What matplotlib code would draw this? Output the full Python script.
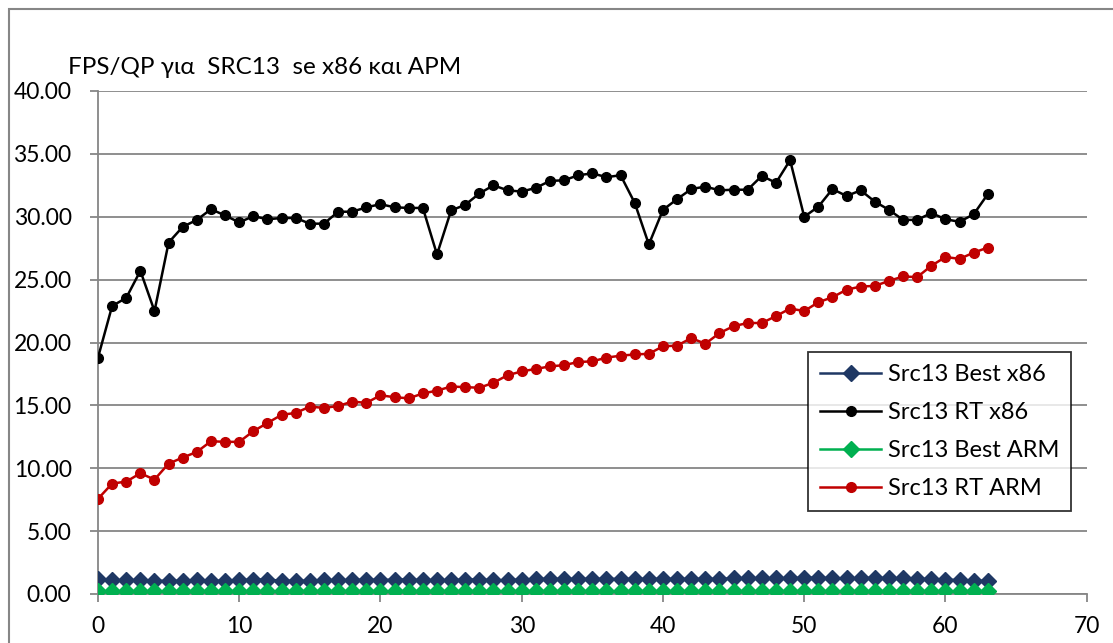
import matplotlib
matplotlib.use("Agg")
import matplotlib.pyplot as plt
from matplotlib.patches import Rectangle

plt.rcParams['font.family'] = ['Lato', 'DejaVu Sans']

x = list(range(64))

rt_x86 = [18.8, 22.9, 23.55, 25.7, 22.5, 27.95, 29.2, 29.75, 30.6, 30.1,
          29.55, 30.05, 29.8, 29.9, 29.9, 29.45, 29.45, 30.4, 30.4, 30.75,
          31.0, 30.75, 30.7, 30.7, 27.0, 30.5, 30.95, 31.85, 32.5, 32.1,
          32.0, 32.3, 32.85, 32.9, 33.3, 33.45, 33.15, 33.3, 31.1, 27.8,
          30.55, 31.4, 32.2, 32.4, 32.1, 32.15, 32.15, 33.25, 32.7, 34.5,
          30.0, 30.8, 32.2, 31.65, 32.1, 31.2, 30.55, 29.75, 29.75, 30.3,
          29.8, 29.6, 30.2, 31.8]

rt_arm = [7.57, 8.78, 8.94, 9.6, 9.1, 10.37, 10.85, 11.3, 12.15, 12.1,
          12.1, 12.95, 13.6, 14.25, 14.4, 14.9, 14.8, 14.95, 15.3, 15.2,
          15.8, 15.65, 15.56, 15.95, 16.17, 16.5, 16.45, 16.4, 16.8, 17.4,
          17.7, 17.9, 18.1, 18.2, 18.45, 18.5, 18.8, 18.95, 19.05, 19.1,
          19.7, 19.75, 20.35, 19.9, 20.75, 21.3, 21.55, 21.55, 22.1, 22.7,
          22.5, 23.2, 23.6, 24.2, 24.45, 24.5, 24.9, 25.25, 25.2, 26.1,
          26.8, 26.65, 27.15, 27.55]

best_x86 = [1.2, 1.1, 1.1, 1.1, 1.05, 1.05, 1.05, 1.1, 1.05, 1.05,
            1.1, 1.15, 1.15, 1.05, 1.05, 1.05, 1.1, 1.1, 1.1, 1.15,
            1.1, 1.15, 1.15, 1.1, 1.1, 1.1, 1.15, 1.15, 1.1, 1.1,
            1.15, 1.2, 1.2, 1.2, 1.2, 1.2, 1.2, 1.2, 1.2, 1.2,
            1.2, 1.2, 1.2, 1.2, 1.2, 1.25, 1.25, 1.25, 1.25, 1.25,
            1.3, 1.3, 1.25, 1.25, 1.25, 1.3, 1.25, 1.25, 1.2, 1.2,
            1.15, 1.1, 1.05, 1.05]

best_arm = [0.26] * 64

labels = ["Src13 Best x86", "Src13 RT x86", "Src13 Best ARM", "Src13 RT ARM"]
title = "FPS/QP για  SRC13  se x86 και APM"
yticks = [0, 5, 10, 15, 20, 25, 30, 35, 40]
xticks = [0, 10, 20, 30, 40, 50, 60, 70]

W, H = 1113, 643
fig = plt.figure(figsize=(W / 100, H / 100), dpi=100)
ax = fig.add_axes([98 / W, 1 - 594 / H, (1086.7 - 98) / W, (594 - 91) / H])

grey = '#868686'
ax.plot(x, best_x86, color='#1F3864', marker='D', markersize=8, lw=1.8, label=labels[0], zorder=3)
ax.plot(x, rt_x86, color='black', marker='o', markersize=7, lw=1.8, label=labels[1], zorder=4)
ax.plot(x, best_arm, color='#00B050', marker='D', markersize=8, lw=1.8, label=labels[2], zorder=3)
ax.plot(x, rt_arm, color='#C00000', marker='o', markersize=7, lw=1.8, label=labels[3], zorder=4)

ax.set_xlim(0, 70)
ax.set_ylim(0, 40)
ax.set_xticks(xticks)
ax.set_yticks(yticks)
ax.set_yticklabels([f"{v:.2f}" for v in yticks])
ax.grid(axis='y', color=grey, lw=1.3)
ax.set_axisbelow(True)
for s in ['top', 'right']:
    ax.spines[s].set_visible(False)
for s in ['left', 'bottom']:
    ax.spines[s].set_color(grey)
    ax.spines[s].set_linewidth(1.3)
ax.tick_params(axis='both', colors=grey, width=1.3, length=6, labelsize=16.5, labelcolor='black')
ax.tick_params(axis='y', pad=13)
ax.tick_params(axis='x', pad=10)

fig.text(68 / W, 1 - 67 / H, title, fontsize=17.5, va='center', ha='left')

leg = ax.legend(loc='upper left', bbox_to_anchor=((808 - 98) / (1086.7 - 98), (594 - 352) / (594 - 91)),
                borderaxespad=0, fontsize=17, frameon=True, fancybox=False, edgecolor='black',
                handlelength=2.6, handletextpad=0.3, labelspacing=0.72, borderpad=0.5)
leg.get_frame().set_linewidth(1.3)

fig.patches.append(Rectangle((9 / W, -0.1), 1.2, 1 - 9 / H + 0.1, transform=fig.transFigure,
                             fill=False, edgecolor=grey, lw=1.5))

fig.savefig("out.png", dpi=100)
